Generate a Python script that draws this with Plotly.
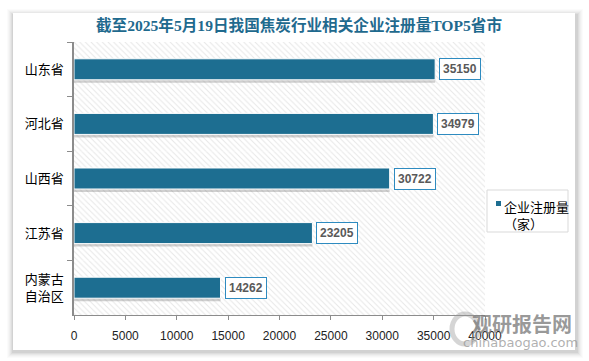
import plotly.graph_objects as go

# ---- data ----
provinces = ["山东省", "河北省", "山西省", "江苏省", "内蒙古<br>自治区"]
registrations = [35150, 34979, 30722, 23205, 14262]
series_name = "企业注册量<br>（家）"
x_ticks = [0, 5000, 10000, 15000, 20000, 25000, 30000, 35000, 40000]
title_text = "截至2025年5月19日我国焦炭行业相关企业注册量TOP5省市"

W, H = 589, 361
L, R, T, B = 74, 485, 42, 315  # plot area in px


def px(xp):
    return (xp - L) / (R - L)


def py(yp):
    return (B - yp) / (B - T)


bar_color = "#1d6e91"
bw = 0.385

fig = go.Figure()
# hatched background
fig.add_trace(go.Bar(
    y=provinces, x=[x_ticks[-1]] * len(provinces), orientation="h", width=1,
    marker=dict(color="white", line=dict(width=0),
                pattern=dict(shape="\\", fgcolor="#cfcfcf", bgcolor="white", size=4, solidity=0.25)),
    hoverinfo="skip", showlegend=False))
# shadow
fig.add_trace(go.Bar(
    y=provinces, x=registrations, orientation="h", width=bw, offset=-bw / 2 + 0.055,
    marker=dict(color="rgba(120,120,120,0.35)", line=dict(width=0)),
    hoverinfo="skip", showlegend=False))
# main bars
fig.add_trace(go.Bar(
    y=provinces, x=registrations, orientation="h", width=bw, offset=-bw / 2,
    name=series_name, marker=dict(color=bar_color, line=dict(color="white", width=1)),
    showlegend=False))

annotations = []
for p, v in zip(provinces, registrations):
    annotations.append(dict(
        x=v, y=p, xref="x", yref="y", xanchor="left", yanchor="middle", xshift=4,
        text=f"<b>{v}</b>", showarrow=False,
        font=dict(family="Liberation Sans, Arial", size=12, color="#595959"),
        bgcolor="white", bordercolor="#2e8bc0", borderwidth=1, borderpad=3))

# legend (manual)
annotations.append(dict(
    x=px(502), y=py(195), xref="paper", yref="paper", xanchor="left", yanchor="top",
    text=series_name, showarrow=False, align="left",
    font=dict(family="Noto Sans CJK SC", size=13, color="#000000")))

# watermark
annotations.append(dict(
    x=px(522), y=py(323), xref="paper", yref="paper", xanchor="center", yanchor="middle",
    text="<b>观研报告网</b>", showarrow=False,
    font=dict(family="Noto Sans CJK SC", size=20, color="rgba(120,120,120,0.75)")))
annotations.append(dict(
    x=px(520), y=py(342), xref="paper", yref="paper", xanchor="center", yanchor="middle",
    text="chinabaogao.com", showarrow=False,
    font=dict(family="DejaVu Sans", size=13, color="rgba(150,150,150,0.75)")))

shapes = []
# card shadow
for i, a in enumerate([0.015, 0.02, 0.025, 0.03, 0.04, 0.05]):
    d = 6 - i
    shapes.append(dict(type="rect", xref="paper", yref="paper", layer="below",
                       x0=px(13 - d), x1=px(575 + d + 2), y0=py(350 + d + 2), y1=py(13 - d + 2),
                       line=dict(width=0), fillcolor=f"rgba(0,0,0,{a})"))
shapes.append(dict(type="rect", xref="paper", yref="paper", layer="below",
                   x0=px(13), x1=px(575), y0=py(350), y1=py(13),
                   line=dict(width=0), fillcolor="white"))
# legend box + marker
shapes.append(dict(type="rect", xref="paper", yref="paper",
                   x0=px(487), x1=px(568), y0=py(232), y1=py(190),
                   line=dict(color="#d9d9d9", width=1), fillcolor="rgba(0,0,0,0)"))
shapes.append(dict(type="rect", xref="paper", yref="paper",
                   x0=px(496), x1=px(501), y0=py(206), y1=py(201),
                   line=dict(width=0), fillcolor=bar_color))
# watermark logo ring
shapes.append(dict(type="circle", xref="paper", yref="paper",
                   x0=px(452), x1=px(478), y0=py(344), y1=py(314),
                   line=dict(color="rgba(150,150,150,0.4)", width=5), fillcolor="rgba(0,0,0,0)"))

fig.update_layout(
    width=W, height=H,
    margin=dict(l=L, r=W - R, t=T, b=H - B, pad=0),
    paper_bgcolor="white", plot_bgcolor="white",
    barmode="overlay",
    title=dict(text=f"<b>{title_text}</b>", x=299 / W, xanchor="center", xref="container",
               y=1 - 26 / H, yanchor="middle", yref="container",
               font=dict(family="Liberation Serif, Noto Sans CJK SC", size=15.6, color="#1f6a8e")),
    xaxis=dict(range=[0, x_ticks[-1]], tickvals=x_ticks, ticktext=[str(v) for v in x_ticks],
               showgrid=False, zeroline=False,
               showline=True, linecolor="#8c8c8c", linewidth=1, ticks="outside", ticklen=4,
               tickcolor="#8c8c8c", ticklabelstandoff=6,
               tickfont=dict(family="Liberation Sans, Arial", size=12, color="#222222")),
    yaxis=dict(type="category", categoryorder="array", categoryarray=provinces,
               autorange="reversed", showgrid=False, zeroline=False,
               showline=True, linecolor="#8c8c8c", linewidth=1.5, ticks="outside", ticklen=5,
               tickcolor="#8c8c8c", tickson="boundaries", ticklabelstandoff=6,
               tickfont=dict(family="Noto Sans CJK SC", size=13, color="#000000")),
    annotations=annotations, shapes=shapes, showlegend=False,
)

fig.write_html("out.html", config={"displayModeBar": False},
               post_script="document.body.style.margin='0';")
